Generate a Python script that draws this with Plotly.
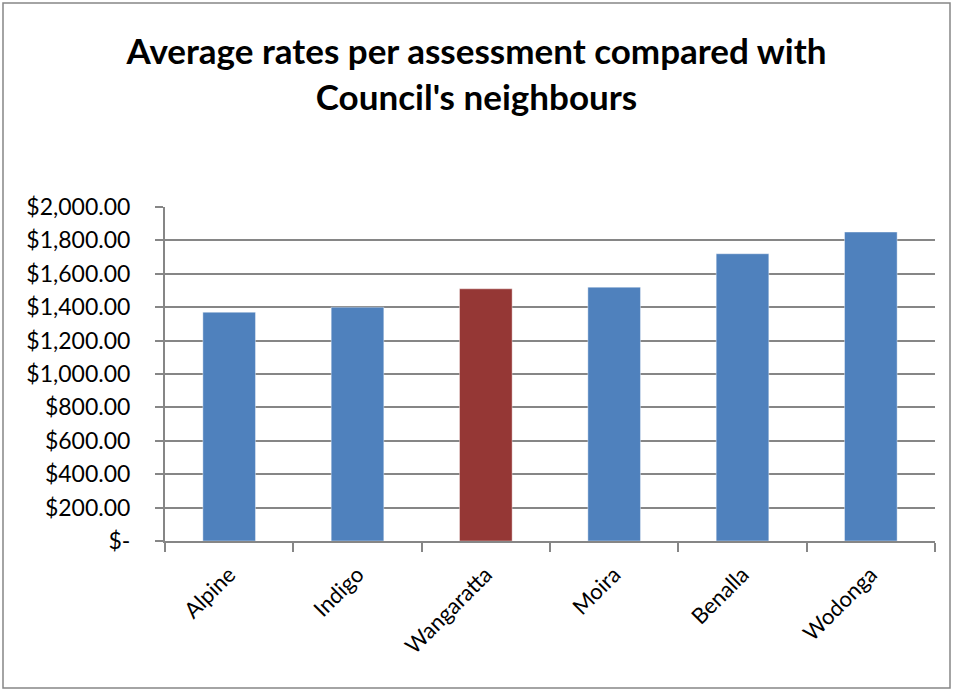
import plotly.graph_objects as go

categories = ["Alpine", "Indigo", "Wangaratta", "Moira", "Benalla", "Wodonga"]
values = [1370, 1400, 1510, 1520, 1720, 1850]
bar_colors = ["#4F81BD", "#4F81BD", "#953735", "#4F81BD", "#4F81BD", "#4F81BD"]
tick_vals = [0, 200, 400, 600, 800, 1000, 1200, 1400, 1600, 1800, 2000]
tick_text = ["$-", "$200.00", "$400.00", "$600.00", "$800.00", "$1,000.00",
             "$1,200.00", "$1,400.00", "$1,600.00", "$1,800.00", "$2,000.00"]
title_text = "Average rates per assessment compared with<br>Council's neighbours"

W, H = 953, 691
ml, mr, mt, mb = 165, 18, 207, 150
pw, ph = W - ml - mr, H - mt - mb

fig = go.Figure(go.Bar(
    x=categories, y=values,
    marker=dict(color=bar_colors, line=dict(color="rgba(255,255,255,0.4)", width=1)),
    width=0.41,
))

def px_x(p):
    return (p - ml) / pw

def px_y(p):
    return (H - mb - p) / ph

fig.update_layout(
    width=W, height=H,
    margin=dict(l=ml, r=mr, t=mt, b=mb),
    paper_bgcolor="white", plot_bgcolor="white",
    showlegend=False,
    title=dict(text=title_text, x=0.5, xanchor="center", y=1 - 64 / H, yanchor="middle",
               font=dict(family="Lato", size=35, color="black", weight="bold")),
    font=dict(family="Lato", color="black"),
    xaxis=dict(
        type="category", tickangle=-45, tickson="boundaries",
        ticks="outside", ticklen=9, tickcolor="#868686", tickwidth=1.5,
        showline=True, linecolor="#868686", linewidth=2,
        tickfont=dict(size=22, family="Lato", color="black"),
        ticklabelstandoff=10,
        showgrid=False,
    ),
    yaxis=dict(
        range=[0, 2000], tickvals=tick_vals, ticktext=tick_text,
        ticks="outside", ticklen=8, tickcolor="#868686", tickwidth=1.5,
        showline=True, linecolor="#868686", linewidth=2,
        showgrid=True, gridcolor="#868686", gridwidth=2,
        tickfont=dict(size=23, family="Lato", color="black"),
        ticklabelstandoff=20,
        zeroline=False,
    ),
    shapes=[dict(type="rect", xref="paper", yref="paper",
                 x0=px_x(3), x1=px_x(950), y0=px_y(688), y1=px_y(3),
                 line=dict(color="#868686", width=1.5), fillcolor="rgba(0,0,0,0)", layer="below")],
)

fig.write_html("out.html")
